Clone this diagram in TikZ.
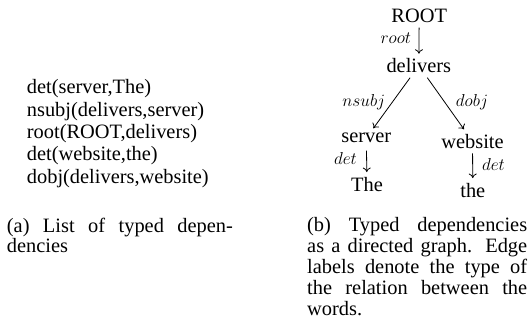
\documentclass[tikz,border=0pt]{standalone}
\usepackage{fontspec}
\setmainfont{Liberation Serif}
\usetikzlibrary{arrows.meta}
\setlength\parindent{0pt}
\begin{document}
\begin{tikzpicture}[x=1pt,y=-1pt,
  word/.style={inner sep=4.6pt, font=\fontsize{20.4}{22}\selectfont, anchor=base},
  lbl/.style={inner sep=0pt, font=\fontsize{16}{18}\selectfont, anchor=base},
  arr/.style={-{To[length=4.5pt,width=8pt]}, line width=0.8pt},
  txt/.style={inner sep=0pt, font=\fontsize{20.4}{22}\selectfont, anchor=base west},
  captext/.style={inner sep=0pt, font=\fontsize{20.4}{20.8}\selectfont, anchor=north west, align=justify}]
\useasboundingbox (0,0) rectangle (529,331);

% (a) list
\node[txt] (l1) at (26.7,94) {det(server,The)};
\node[txt] (l2) at (26.7,116.3) {nsubj(delivers,server)};
\node[txt] (l3) at (26.7,138.6) {root(ROOT,delivers)};
\node[txt] (l4) at (26.7,160.9) {det(website,the)};
\node[txt] (l5) at (26.7,183.2) {dobj(delivers,website)};

\node[captext, text width=226pt] (capa) at (6.7,217.5)
  {\noindent(a) List of typed depen-\linebreak dencies};

% (b) graph
\node[word] (ROOT) at (419.2,22.7) {ROOT};
\node[word] (delivers) at (418.8,72.7) {delivers};
\node[word] (server) at (366.3,142.7) {server};
\node[word] (website) at (472.5,148.3) {website};
\node[word] (The) at (367,191) {The};
\node[word] (the) at (472.8,197) {the};

\draw[arr] (ROOT) -- (delivers);
\draw[arr] (delivers) -- (server);
\draw[arr] (delivers) -- (website);
\draw[arr, shorten <=3pt] (server) -- (The);
\draw[arr] (website) -- (the);

\node[lbl] (lroot) at (395.8,43.5) {$root$};
\node[lbl] (lnsubj) at (363.8,107) {$nsubj$};
\node[lbl] (ldobj) at (472,107) {$dobj$};
\node[lbl] (ldet1) at (345.5,164.5) {$det$};
\node[lbl] (ldet2) at (493.5,170) {$det$};

\node[captext, text width=220pt] (capb) at (307,217.5)
  {\noindent(b) Typed dependencies\linebreak as a directed graph. Edge\linebreak labels denote the type of\linebreak the relation between the\linebreak words.};
\end{tikzpicture}
\end{document}
